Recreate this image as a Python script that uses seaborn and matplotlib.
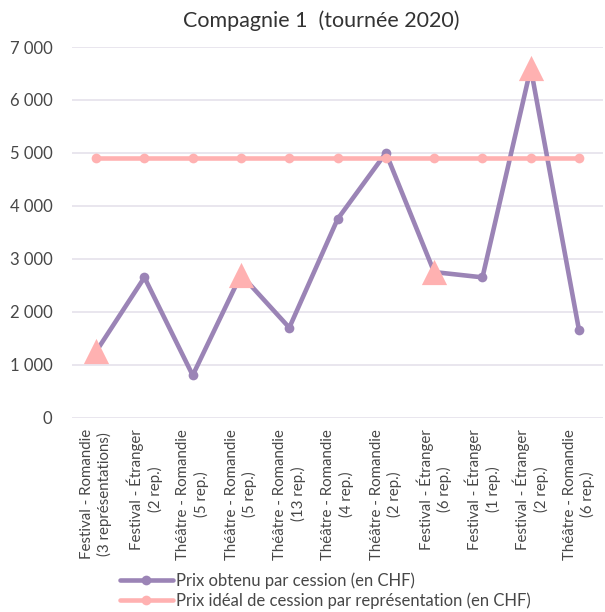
import matplotlib
matplotlib.use("Agg")
import matplotlib.pyplot as plt
import seaborn as sns
import pandas as pd

# chart data
labels = ["Festival - Romandie\n(3 représentations)", "Festival - Étranger\n(2 rep.)",
          "Théâtre - Romandie\n(5 rep.)", "Théâtre - Romandie\n(5 rep.)",
          "Théâtre - Romandie\n(13 rep.)", "Théâtre - Romandie\n(4 rep.)",
          "Théâtre - Romandie\n(2 rep.)", "Festival - Étranger\n(6 rep.)",
          "Festival - Étranger\n(1 rep.)", "Festival - Étranger\n(2 rep.)",
          "Théâtre - Romandie\n(6 rep.)"]
prix_obtenu = [1250, 2650, 800, 2700, 1700, 3750, 5000, 2750, 2650, 6600, 1650]
prix_ideal = [4900] * 11
# points highlighted with a triangle in the original
highlight = [0, 3, 7, 9]

purple = "#9B84B6"
pink = "#FFB1B1"
text_color = "#474747"
font = ["Lato", "DejaVu Sans"]

sns.set_style("white")
plt.rcParams["font.family"] = font

df = pd.DataFrame({"pos": range(len(labels)), "obtenu": prix_obtenu, "ideal": prix_ideal})
hl = df.iloc[highlight]

fig = plt.figure(figsize=(6.05, 6.12), dpi=100)
ax = fig.add_axes([0.119, 0.3175, 0.878, 0.6057])

sns.lineplot(data=df, x="pos", y="obtenu", ax=ax, color=purple, linewidth=3.3,
             marker="o", markersize=7, markeredgewidth=0, zorder=2,
             label="Prix obtenu par cession (en CHF)")
sns.lineplot(data=df, x="pos", y="ideal", ax=ax, color=pink, linewidth=3.3,
             marker="o", markersize=7, markeredgewidth=0, zorder=3,
             label="Prix idéal de cession par représentation (en CHF)")
sns.scatterplot(data=hl, x="pos", y="obtenu", ax=ax, color=pink, marker="^",
                s=330, linewidth=0, zorder=4, legend=False)

ax.set_xlim(-0.5, len(labels) - 0.5)
ax.set_ylim(0, 7000)
ax.set_yticks(range(0, 7001, 1000))
ax.set_yticklabels([f"{v:,}".replace(",", " ") for v in range(0, 7001, 1000)])
ax.set_xticks(range(len(labels)))
ax.set_xticklabels(labels, rotation=90, ha="center", va="top", multialignment="center",
                   linespacing=1.3)
ax.tick_params(axis="both", length=0, labelcolor=text_color)
ax.tick_params(axis="x", pad=8, labelsize=10.8)
ax.tick_params(axis="y", pad=14, labelsize=12)
ax.set_xlabel("")
ax.set_ylabel("")
ax.grid(axis="y", color="#E7E4ED", linewidth=1.3)
ax.grid(axis="x", visible=False)
sns.despine(ax=ax, left=True, bottom=True)

fig.text(321 / 605, 1 - 21 / 612, "Compagnie 1  (tournée 2020)", fontsize=15.5,
         color="#333333", ha="center", va="center")

ax.legend(loc="upper left", bbox_to_anchor=(113 / 605, 1 - 566 / 612),
          bbox_transform=fig.transFigure, frameon=False, fontsize=12,
          handlelength=3.2, handletextpad=0.15, labelspacing=0.2, borderaxespad=0,
          labelcolor=text_color)

fig.savefig("out.png", dpi=100)
